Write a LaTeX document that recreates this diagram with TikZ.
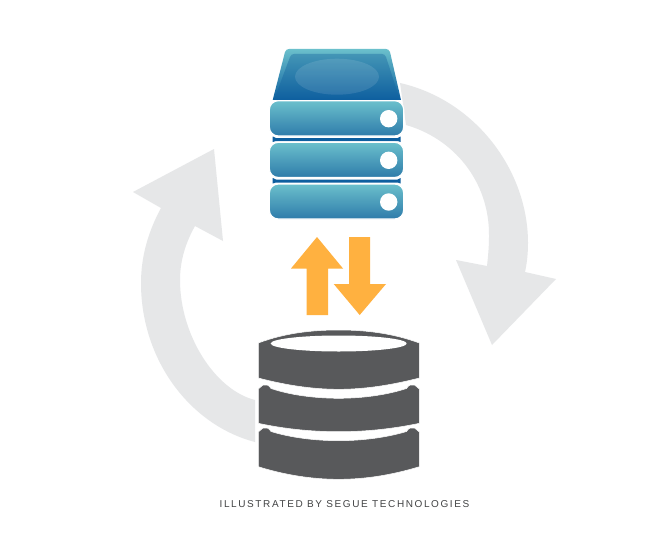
\documentclass[tikz,border=0pt]{standalone}
\usepackage{fontspec}
\setmainfont{Liberation Sans}[LetterSpace=16]
\definecolor{cyclegrey}{HTML}{E6E7E8}
\definecolor{dbgrey}{HTML}{58595B}
\definecolor{flow}{HTML}{FFB140}
\definecolor{rowtop}{HTML}{6BC0CC}
\definecolor{rowbot}{HTML}{2E7BAA}
\definecolor{capbot}{HTML}{0E5F9F}
\definecolor{capin}{HTML}{4395B6}
\tikzset{
  cyclearrow/.style={fill=cyclegrey},
  flowarrow/.style={fill=flow},
  dbdisk/.style={fill=dbgrey,draw=white,line width=0.5pt},
  rowbox/.style={rounded corners=9pt,top color=rowtop,bottom color=rowbot,draw=white,line width=1.2pt},
  lamp/.style={circle,fill=white,minimum size=17.4pt,inner sep=0pt},
  gapband/.style={fill=capbot},
}
\begin{document}
\begin{tikzpicture}[x=1pt,y=-1pt]
\useasboundingbox (0,0) rectangle (671,532);
\fill[white] (0,0) rectangle (671,532);
% grey cycle arrows
\path[cyclearrow] (400,83) .. controls (475,100) and (528,170) .. (528,243)
  .. controls (528,253) and (527,263) .. (525,272)
  -- (556,279) -- (492,345) -- (456,260) -- (487,266)
  .. controls (488,257) and (489,247) .. (489,237)
  .. controls (490,180) and (452,138) .. (406,125) -- cycle;
\path[cyclearrow] (214,149) -- (133,192) -- (161,208)
  .. controls (148,232) and (141,257) .. (141,283)
  .. controls (141,360) and (190,425) .. (255,442)
  -- (255,400)
  .. controls (215,390) and (180,335) .. (180,280)
  .. controls (180,260) and (186,242) .. (195,226)
  -- (223,241) -- cycle;
% server
\shade[top color=rowtop,bottom color=capbot] (289,49) -- (386,49) .. controls (388,49) and (389,50) .. (390,52) -- (401,100) -- (272.7,100) -- (285,52) .. controls (286,50) and (287,49) .. (289,49) -- cycle;
\shade[top color=capin,bottom color=capbot] (294,54) -- (382,54) .. controls (384,54) and (385,55) .. (386,57) -- (400,100) -- (274,100) -- (290,57) .. controls (291,55) and (292,54) .. (294,54) -- cycle;
\fill[white,opacity=0.11] (337,76.7) ellipse [x radius=42,y radius=18];
\path[gapband] (272.7,136.5) -- (276,138) -- (397.5,138) -- (400.7,136.5) -- (400.7,142) -- (397.5,141) -- (276,141) -- (272.7,142) -- cycle;
\path[gapband] (272.7,178) -- (276,179.5) -- (397.5,179.5) -- (400.7,178) -- (400.7,183.5) -- (397.5,182.5) -- (276,182.5) -- (272.7,183.5) -- cycle;
\path[rowbox] (269.3,100.7) rectangle (403.7,136);
\path[rowbox] (269.3,142.3) rectangle (403.7,177.5);
\path[rowbox] (269.3,184) rectangle (403.7,219);
\node[lamp] (lamp1) at (388.7,118.7) {};
\node[lamp] (lamp2) at (388.7,160.3) {};
\node[lamp] (lamp3) at (388.7,202) {};
% flow arrows
\path[flowarrow] (317,237) -- (343,268.5) -- (328,268.5) -- (328,315) -- (306.7,315) -- (306.7,268.5) -- (291,268.5) -- cycle;
\path[flowarrow] (349,237) -- (370,237) -- (370,284) -- (386,284) -- (359.7,315) -- (333.7,284) -- (349,284) -- cycle;
% database
\path[dbdisk] (258.3,343) .. controls (285,333) and (312,330) .. (338.7,330)
  .. controls (365,330) and (392,333) .. (419.3,343)
  -- (419.3,378) .. controls (392,385) and (365,389.3) .. (338.7,389.3)
  .. controls (312,389.3) and (285,385) .. (258.3,378) -- cycle;
\fill[white] (338.7,343.5) ellipse [x radius=68,y radius=8];
\path[dbdisk] (258.3,389) -- (263,385) .. controls (266,384) and (269,385) .. (271,388.5)
  .. controls (290,395) and (315,398.3) .. (338.7,398.3)
  .. controls (362,398.3) and (387,395) .. (406.5,388.5)
  .. controls (408.5,385) and (411.5,384) .. (414.5,385) -- (419.3,389)
  -- (419.3,423.3) .. controls (392,429) and (365,431.7) .. (338.7,431.7)
  .. controls (312,431.7) and (285,429) .. (258.3,423.3) -- cycle;
\path[dbdisk] (258.3,432) -- (263,428) .. controls (266,427) and (269,428) .. (271,431.5)
  .. controls (290,437.5) and (315,440.7) .. (338.7,440.7)
  .. controls (362,440.7) and (387,437.5) .. (406.5,431.5)
  .. controls (408.5,428) and (411.5,427) .. (414.5,428) -- (419.3,432)
  -- (419.3,466.7) .. controls (392,475) and (365,479.3) .. (338.7,479.3)
  .. controls (312,479.3) and (285,475) .. (258.3,466.7) -- cycle;
% caption
\node[inner sep=0pt,text=dbgrey!75!black,font=\fontsize{10}{12}\selectfont] (caption) at (344.5,504) {ILLUSTRATED BY SEGUE TECHNOLOGIES};
\end{tikzpicture}
\end{document}
